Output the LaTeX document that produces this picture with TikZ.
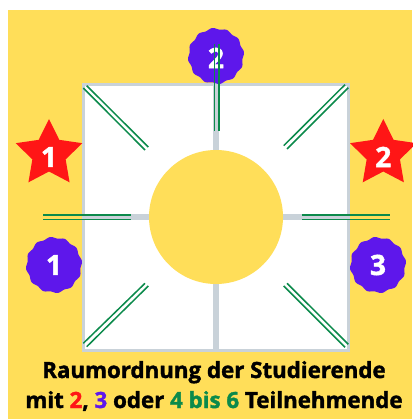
\documentclass[tikz,border=0pt]{standalone}
\usepackage{fontspec}
\setmainfont[BoldFeatures={FakeBold=1.6}]{Open Sans}
\usetikzlibrary{shapes.geometric}
\definecolor{bgy}{HTML}{FFDE59}
\definecolor{rd}{HTML}{FF1616}
\definecolor{pu}{HTML}{5E17EB}
\definecolor{gn}{HTML}{0B8A4B}
\definecolor{gy}{HTML}{C9D2D9}
\tikzset{
  x=1pt,y=-1pt,
  wall/.style={draw=gy,line width=3pt},
  spoke/.style={draw=gy,line width=5.5pt},
  seat/.style={draw=gn,line width=1.5pt},
  starbadge/.style={star,star points=5,star point ratio=2.0,fill=rd,inner sep=0pt,minimum size=70pt},
  numtext/.style={text=white,inner sep=0pt,font=\bfseries\fontsize{28}{28}\selectfont},
  caption/.style={inner sep=0pt,anchor=base,font=\bfseries\fontsize{22.3}{24}\selectfont},
}
\newcommand{\wavy}[2]{\fill[pu,shift={(#1,#2)}] plot[domain=0:360,samples=145,smooth,variable=\t] ({(27.4+0.8*cos(12*\t+90))*cos(\t)},{(27.4+0.8*cos(12*\t+90))*sin(\t)}) -- cycle;}
\begin{document}
\begin{tikzpicture}
\useasboundingbox (0,0) rectangle (412,419);
\fill[white] (0,0) rectangle (412,419);
\fill[bgy] (8,10) rectangle (412,419);
\fill[white] (83.5,85) rectangle (348.5,350);
\draw[wall] (83.5,85) rectangle (348.5,350);
\draw[spoke] (216,84) -- (216,160);
\draw[spoke] (216,280) -- (216,350);
\draw[spoke] (84,217) -- (160,217);
\draw[spoke] (275,217) -- (348,217);
\node[circle,fill=bgy,minimum size=134pt,inner sep=0pt] (sun) at (216,217) {};
\wavy{216}{56}
\wavy{54}{265}
\wavy{378}{265}
\node[numtext] (p2) at (216,58) {2};
\node[numtext] (p1) at (54,265) {1};
\node[numtext] (p3) at (378,265) {3};
\node[starbadge] (s1) at (49,154) {};
\node[starbadge] (s2) at (383.3,154) {};
\node[numtext] (s1t) at (49,157) {1};
\node[numtext] (s2t) at (383.3,157) {2};
% top
\draw[seat] (214.4,44) -- (214.4,131);
\draw[seat] (219.2,44) -- (219.2,131);
% left / right
\draw[seat] (43,215) -- (131,215);
\draw[seat] (43,219.3) -- (131,219.3);
\draw[seat] (302,215) -- (389.5,215);
\draw[seat] (302,219.3) -- (389.5,219.3);
% diagonals
\draw[seat] (83.3,88) -- (145,150);
\draw[seat] (86.7,85.7) -- (148.3,147);
\draw[seat] (283.7,145.7) -- (345,84.7);
\draw[seat] (287,149) -- (348.3,87.7);
\draw[seat] (83.3,343.3) -- (145,283.3);
\draw[seat] (86.7,346.7) -- (148.3,286);
\draw[seat] (283.7,286) -- (345,347.3);
\draw[seat] (287,283.3) -- (348.3,344.3);
\node[caption] (l1) at (214,378) {Raumordnung der Studierende};
\node[caption] (l2) at (214,408) {mit \textcolor{rd}{2}, \textcolor{pu}{3} oder \textcolor{gn}{4 bis 6} Teilnehmende};
\end{tikzpicture}
\end{document}
